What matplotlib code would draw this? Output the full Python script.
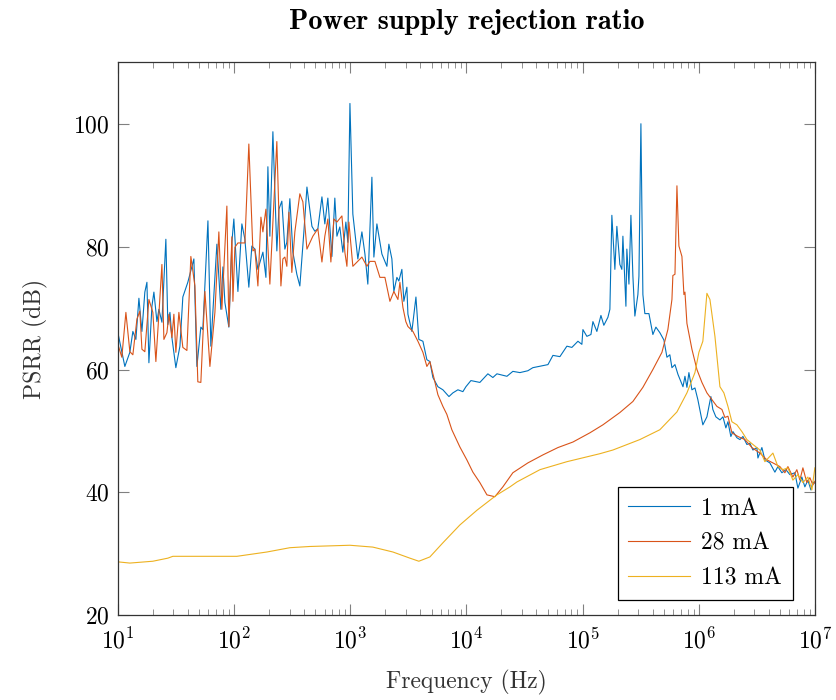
import matplotlib
matplotlib.use("Agg")
import matplotlib.pyplot as plt

plt.rcParams['font.family'] = ['cmr10', 'DejaVu Serif']
plt.rcParams['mathtext.fontset'] = 'cm'
plt.rcParams['axes.formatter.use_mathtext'] = True
plt.rcParams['font.size'] = 17

# log10 of frequency (Hz) and PSRR (dB)
exp_1mA = [1.000, 1.060, 1.103, 1.129, 1.155, 1.181, 1.207, 1.232, 1.250, 1.267,
           1.293, 1.310, 1.336, 1.353, 1.379, 1.413, 1.430, 1.448, 1.465, 1.499,
           1.534, 1.559, 1.602, 1.654, 1.680, 1.714, 1.731, 1.775, 1.800, 1.852,
           1.886, 1.904, 1.921, 1.955, 1.981, 1.998, 2.033, 2.067, 2.093, 2.127,
           2.153, 2.179, 2.205, 2.248, 2.274, 2.291, 2.308, 2.334, 2.368, 2.386,
           2.411, 2.437, 2.454, 2.480, 2.506, 2.540, 2.566, 2.601, 2.627, 2.670,
           2.695, 2.721, 2.756, 2.781, 2.807, 2.842, 2.867, 2.885, 2.910, 2.936,
           2.962, 2.979, 2.997, 3.022, 3.065, 3.100, 3.126, 3.151, 3.186, 3.203,
           3.229, 3.272, 3.315, 3.332, 3.358, 3.375, 3.401, 3.418, 3.444, 3.461,
           3.487, 3.496, 3.530, 3.565, 3.590, 3.625, 3.659, 3.685, 3.711, 3.754,
           3.797, 3.849, 3.883, 3.926, 3.969, 3.995, 4.038, 4.115, 4.184, 4.227,
           4.262, 4.348, 4.399, 4.460, 4.528, 4.571, 4.701, 4.744, 4.804, 4.864,
           4.907, 4.959, 4.993, 5.002, 5.036, 5.071, 5.088, 5.122, 5.157, 5.182,
           5.217, 5.234, 5.251, 5.277, 5.294, 5.320, 5.337, 5.346, 5.372, 5.380,
           5.398, 5.415, 5.432, 5.449, 5.475, 5.484, 5.501, 5.518, 5.535, 5.570,
           5.604, 5.630, 5.664, 5.699, 5.725, 5.750, 5.768, 5.794, 5.820, 5.863,
           5.880, 5.897, 5.914, 5.940, 5.966, 5.991, 6.034, 6.069, 6.103, 6.120,
           6.146, 6.181, 6.207, 6.232, 6.250, 6.275, 6.293, 6.327, 6.353, 6.379,
           6.413, 6.439, 6.465, 6.499, 6.508, 6.542, 6.568, 6.611, 6.654, 6.680,
           6.714, 6.749, 6.783, 6.826, 6.852, 6.886, 6.912, 6.938, 6.964, 6.981,
           6.998]
psrr_1mA = [66.0, 60.5, 62.8, 66.2, 64.9, 71.6, 66.2, 72.6, 74.2, 61.1,
            70.3, 72.6, 67.8, 69.8, 67.7, 81.2, 67.3, 69.3, 65.2, 60.3,
            63.8, 71.8, 74.2, 78.0, 60.5, 66.9, 66.5, 84.2, 63.8, 80.4,
            69.8, 76.7, 70.9, 66.9, 80.7, 84.5, 72.7, 83.7, 81.2, 73.4,
            80.1, 79.6, 76.3, 79.1, 75.0, 93.0, 81.7, 98.7, 79.3, 86.1,
            87.4, 79.6, 80.7, 87.8, 79.1, 75.5, 73.6, 82.5, 89.7, 83.3,
            82.5, 82.9, 88.1, 83.7, 87.9, 78.4, 87.9, 81.7, 83.2, 79.1,
            84.0, 80.7, 103.3, 85.3, 78.0, 82.4, 78.8, 73.9, 91.3, 78.3,
            83.7, 78.8, 76.8, 80.4, 78.0, 72.7, 75.0, 74.4, 76.3, 71.1,
            73.4, 69.0, 66.2, 71.8, 64.9, 64.6, 61.6, 61.3, 58.7, 57.2,
            56.7, 55.6, 56.2, 56.7, 56.4, 57.2, 58.2, 57.9, 59.3, 58.7,
            59.3, 58.9, 59.7, 59.5, 59.8, 60.3, 60.8, 62.3, 62.1, 63.8,
            63.6, 64.6, 64.1, 66.5, 65.4, 65.7, 67.8, 66.2, 68.8, 67.2,
            68.5, 69.8, 85.1, 76.3, 83.3, 77.1, 76.3, 81.7, 70.3, 79.6,
            73.9, 85.1, 75.2, 68.7, 72.2, 75.2, 100.0, 72.2, 69.1, 69.1,
            65.7, 66.9, 66.0, 64.8, 62.0, 62.4, 60.3, 60.8, 59.2, 57.2,
            58.9, 57.1, 59.5, 56.7, 57.0, 55.1, 51.0, 52.3, 55.6, 53.5,
            52.3, 51.8, 52.3, 50.5, 51.5, 49.1, 49.9, 48.9, 48.6, 49.1,
            47.8, 48.0, 46.9, 47.3, 45.6, 47.3, 45.3, 44.8, 43.3, 44.2,
            43.2, 43.7, 42.9, 43.2, 40.7, 42.5, 40.9, 42.0, 40.4, 41.7,
            41.5]

exp_28mA = [1.000, 1.034, 1.069, 1.103, 1.129, 1.164, 1.189, 1.207, 1.232, 1.267,
            1.301, 1.327, 1.353, 1.379, 1.396, 1.422, 1.439, 1.465, 1.482, 1.499,
            1.525, 1.559, 1.594, 1.628, 1.663, 1.688, 1.714, 1.749, 1.792, 1.835,
            1.869, 1.895, 1.912, 1.938, 1.955, 1.981, 1.990, 2.007, 2.033, 2.093,
            2.127, 2.162, 2.179, 2.205, 2.231, 2.248, 2.274, 2.308, 2.368, 2.403,
            2.420, 2.437, 2.454, 2.472, 2.497, 2.523, 2.566, 2.592, 2.627, 2.678,
            2.721, 2.756, 2.781, 2.807, 2.833, 2.859, 2.885, 2.928, 2.954, 2.971,
            2.988, 3.022, 3.100, 3.143, 3.169, 3.212, 3.255, 3.298, 3.341, 3.375,
            3.410, 3.427, 3.453, 3.478, 3.496, 3.539, 3.582, 3.625, 3.659, 3.685,
            3.719, 3.754, 3.797, 3.831, 3.874, 3.943, 4.003, 4.055, 4.115, 4.176,
            4.244, 4.313, 4.399, 4.528, 4.657, 4.787, 4.916, 5.062, 5.174, 5.320,
            5.432, 5.518, 5.604, 5.682, 5.733, 5.768, 5.776, 5.794, 5.811, 5.828,
            5.854, 5.871, 5.880, 5.897, 5.940, 5.983, 6.026, 6.069, 6.112, 6.155,
            6.198, 6.224, 6.250, 6.284, 6.336, 6.396, 6.456, 6.525, 6.585, 6.637,
            6.697, 6.740, 6.766, 6.809, 6.843, 6.869, 6.895, 6.929, 6.955, 6.981,
            6.998]
psrr_28mA = [64.1, 62.0, 69.3, 62.9, 62.4, 68.2, 69.5, 63.3, 62.9, 71.4,
             69.3, 61.3, 69.0, 77.1, 64.9, 66.0, 69.0, 65.2, 69.0, 62.8,
             69.3, 63.6, 63.1, 78.4, 73.6, 58.0, 57.9, 72.7, 60.5, 69.3,
             82.4, 69.8, 76.3, 86.6, 67.0, 81.6, 71.1, 79.9, 80.6, 80.6,
             96.7, 79.3, 79.6, 73.6, 84.8, 82.4, 86.1, 73.9, 97.1, 73.6,
             78.0, 78.3, 76.8, 85.6, 75.8, 82.4, 88.6, 87.3, 79.6, 81.7,
             82.9, 77.5, 81.7, 84.5, 77.5, 84.5, 84.0, 85.0, 79.0, 76.8,
             84.0, 76.8, 78.3, 76.8, 77.6, 77.6, 75.0, 75.0, 71.1, 72.7,
             71.4, 74.2, 70.1, 67.8, 67.0, 66.2, 64.6, 62.8, 60.5, 61.3,
             58.7, 55.9, 54.0, 52.7, 50.2, 47.4, 45.3, 43.3, 41.6, 39.6,
             39.3, 40.9, 43.2, 44.8, 46.1, 47.3, 48.2, 49.7, 51.0, 53.0,
             54.8, 57.1, 60.0, 62.8, 66.5, 71.4, 75.3, 75.5, 89.9, 80.1,
             78.4, 72.2, 72.6, 67.5, 63.3, 60.0, 57.9, 56.2, 55.1, 54.0,
             53.5, 52.2, 52.4, 49.7, 49.1, 48.6, 47.3, 46.4, 45.3, 44.8,
             44.2, 43.2, 44.2, 42.5, 43.7, 42.0, 44.0, 41.6, 42.4, 41.2,
             41.8]

exp_113mA = [1.000, 1.103, 1.301, 1.430, 1.473, 2.024, 2.282, 2.480, 2.652, 2.997,
             3.194, 3.367, 3.513, 3.590, 3.685, 3.797, 3.943, 4.090, 4.227, 4.262,
             4.374, 4.434, 4.632, 4.864, 5.148, 5.260, 5.492, 5.664, 5.811, 5.897,
             5.966, 6.000, 6.034, 6.069, 6.095, 6.138, 6.181, 6.215, 6.250, 6.284,
             6.327, 6.370, 6.413, 6.465, 6.525, 6.568, 6.637, 6.680, 6.723, 6.766,
             6.809, 6.852, 6.895, 6.938, 6.972, 6.998]
psrr_113mA = [28.7, 28.5, 28.8, 29.3, 29.6, 29.6, 30.3, 31.0, 31.2, 31.4,
              31.1, 30.3, 29.3, 28.8, 29.5, 31.8, 34.7, 37.1, 39.1, 39.6,
              40.9, 41.7, 43.7, 45.0, 46.3, 46.9, 48.6, 50.2, 53.1, 56.2,
              59.5, 62.8, 64.6, 72.4, 71.4, 65.4, 57.2, 56.2, 54.0, 51.5,
              51.0, 49.9, 48.6, 47.8, 46.9, 45.0, 46.4, 44.2, 43.7, 44.0,
              42.0, 42.9, 41.6, 42.5, 40.4, 44.0]

series = [("1 mA", exp_1mA, psrr_1mA, "#0072BD"),
          ("28 mA", exp_28mA, psrr_28mA, "#D95319"),
          ("113 mA", exp_113mA, psrr_113mA, "#EDB120")]

fig = plt.figure(figsize=(8.36, 7.0), dpi=100)
ax = fig.add_axes([0.141, 0.121, 0.834, 0.790])

for name, ex, db, col in series:
    ax.plot([10 ** e for e in ex], db, color=col, lw=0.8, label=name)

ax.set_xscale("log")
ax.set_xlim(10, 1e7)
ax.set_ylim(20, 110)
ax.set_yticks([20, 40, 60, 80, 100])
ax.tick_params(which="both", direction="in", top=True, right=True, color="#808080")
ax.tick_params(which="major", length=8, width=0.8)
ax.tick_params(which="minor", length=4, width=0.6)
ax.tick_params(axis="x", which="major", pad=9)
ax.tick_params(axis="y", which="major", pad=6)
for s in ax.spines.values():
    s.set_color("#333333")
    s.set_linewidth(0.9)

ax.set_xlabel("Frequency (Hz)", color="#333333", labelpad=12)
ax.set_ylabel("PSRR (dB)", color="#333333", labelpad=18)
ax.set_title("Power supply rejection ratio", fontfamily="cmb10", pad=24)

leg = ax.legend(loc="lower right", bbox_to_anchor=(0.968, 0.027), borderaxespad=0,
                fancybox=False, framealpha=1, edgecolor="black", handlelength=2.6,
                labelspacing=0.55, borderpad=0.45, handletextpad=0.5)
leg.get_frame().set_linewidth(0.9)

fig.savefig("out.png", dpi=100)
